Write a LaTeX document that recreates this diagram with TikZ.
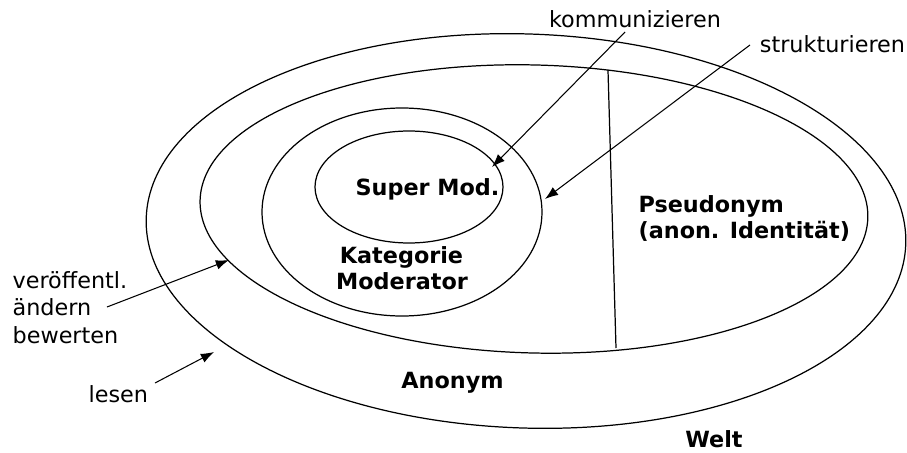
\documentclass[tikz,border=0pt]{standalone}
\usepackage{fontspec}
\setmainfont{DejaVu Sans}
\usetikzlibrary{arrows.meta}
\begin{document}
\begin{tikzpicture}[x=0.02cm,y=-0.02cm,line width=0.7pt,
  lbl/.style={font=\fontsize{12.7}{15.6}\selectfont,inner sep=0pt},
  blbl/.style={font=\fontsize{12.7}{15.6}\selectfont\bfseries,inner sep=0pt},
  arr/.style={-{Latex[length=7.5pt,width=5.5pt]},line width=0.6pt}]
\useasboundingbox (0,0) rectangle (907,453);
\fill[white] (0,0) rectangle (907,453);

% outer boundary (Welt / Anonym)
\coordinate (oc) at (526,231);
\draw[rotate around={-2:(oc)}] (oc) ellipse [x radius=380,y radius=197];

% second boundary (Anonym / inner)
\coordinate (sc) at (534,209);
\draw[rotate around={-1.5:(sc)}] (sc) ellipse [x radius=334,y radius=144];

% Kategorie and Super Mod. circles
\draw (402,212) ellipse [x radius=140,y radius=104];
\draw (409,187) ellipse [x radius=94,y radius=56];

% divider
\coordinate (dtop) at (608,70);
\coordinate (dbot) at (616,348);
\draw (dtop) -- (dbot);

% labels
\node[lbl,anchor=base] (komm) at (635,28) {kommunizieren};
\node[lbl,anchor=base] (strukt) at (832.5,52) {strukturieren};
\node[lbl,anchor=base west] (v1) at (12,288) {veröffentl.};
\node[lbl,anchor=base west] (v2) at (12,315) {ändern};
\node[lbl,anchor=base west] (v3) at (12,343) {bewerten};
\node[lbl,anchor=base west] (lesen) at (88,402) {lesen};

\node[blbl,anchor=base] (super) at (427.5,195) {Super Mod.};
\node[blbl,anchor=base] (kat1) at (401.5,263) {Kategorie};
\node[blbl,anchor=base] (kat2) at (402,289) {Moderator};
\node[blbl,anchor=base] (anon) at (452.5,388) {Anonym};
\node[blbl,anchor=base west] (ps1) at (638,212) {Pseudonym};
\node[blbl,anchor=base west] (ps2) at (638,238) {(anon. Identität)};
\node[blbl,anchor=base] (welt) at (714,447) {Welt};

% arrows
\coordinate (kommS) at (625,32);
\coordinate (kommT) at (492,167);
\coordinate (struS) at (750,45);
\coordinate (struT) at (545,199);
\coordinate (verS) at (107,307);
\coordinate (verT) at (229,260);
\coordinate (lesS) at (155,383);
\coordinate (lesT) at (214,352);
\draw[arr] (kommS) -- (kommT);
\draw[arr] (struS) -- (struT);
\draw[arr] (verS) -- (verT);
\draw[arr] (lesS) -- (lesT);
\end{tikzpicture}
\end{document}
